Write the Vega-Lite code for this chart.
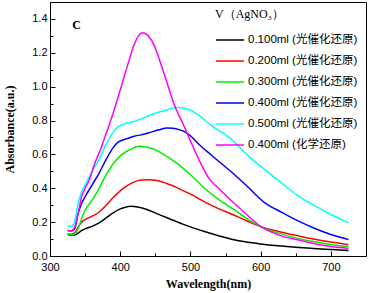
{
  "$schema": "https://vega.github.io/schema/vega-lite/v6.json",
  "width": 316,
  "height": 254,
  "autosize": {"type": "none"},
  "padding": {"left": 50, "top": 2, "right": 4, "bottom": 37},
  "background": "white",
  "config": {
    "view": {"stroke": "black", "strokeWidth": 1},
    "axis": {
      "grid": false,
      "domainColor": "black",
      "tickColor": "black",
      "labelColor": "black",
      "titleColor": "black",
      "labelFont": "Liberation Sans",
      "labelFontSize": 11,
      "labelOverlap": false,
      "labelFlush": false,
      "titleFont": "Liberation Serif",
      "titleFontSize": 12,
      "titleFontWeight": "bold"
    }
  },
  "datasets": {
    "spectra": [
      {"s": "0.100ml (光催化还原)", "x": 325, "y": 0.128}, {"s": "0.100ml (光催化还原)", "x": 330, "y": 0.122}, {"s": "0.100ml (光催化还原)", "x": 335, "y": 0.124}, {"s": "0.100ml (光催化还原)", "x": 340, "y": 0.135}, {"s": "0.100ml (光催化还原)", "x": 345, "y": 0.15}, {"s": "0.100ml (光催化还原)", "x": 350, "y": 0.16}, {"s": "0.100ml (光催化还原)", "x": 360, "y": 0.175}, {"s": "0.100ml (光催化还原)", "x": 370, "y": 0.195}, {"s": "0.100ml (光催化还原)", "x": 380, "y": 0.225}, {"s": "0.100ml (光催化还原)", "x": 390, "y": 0.255}, {"s": "0.100ml (光催化还原)", "x": 400, "y": 0.278}, {"s": "0.100ml (光催化还原)", "x": 410, "y": 0.291}, {"s": "0.100ml (光催化还原)", "x": 415, "y": 0.294}, {"s": "0.100ml (光催化还原)", "x": 420, "y": 0.293}, {"s": "0.100ml (光催化还原)", "x": 430, "y": 0.285}, {"s": "0.100ml (光催化还原)", "x": 440, "y": 0.272}, {"s": "0.100ml (光催化还原)", "x": 450, "y": 0.255}, {"s": "0.100ml (光催化还原)", "x": 460, "y": 0.237}, {"s": "0.100ml (光催化还原)", "x": 470, "y": 0.22}, {"s": "0.100ml (光催化还原)", "x": 480, "y": 0.203}, {"s": "0.100ml (光催化还原)", "x": 490, "y": 0.187}, {"s": "0.100ml (光催化还原)", "x": 500, "y": 0.172}, {"s": "0.100ml (光催化还原)", "x": 520, "y": 0.145}, {"s": "0.100ml (光催化还原)", "x": 540, "y": 0.12}, {"s": "0.100ml (光催化还原)", "x": 560, "y": 0.097}, {"s": "0.100ml (光催化还原)", "x": 580, "y": 0.082}, {"s": "0.100ml (光催化还原)", "x": 600, "y": 0.071}, {"s": "0.100ml (光催化还原)", "x": 625, "y": 0.06}, {"s": "0.100ml (光催化还原)", "x": 650, "y": 0.051}, {"s": "0.100ml (光催化还原)", "x": 675, "y": 0.044}, {"s": "0.100ml (光催化还原)", "x": 700, "y": 0.038}, {"s": "0.100ml (光催化还原)", "x": 725, "y": 0.032},

      {"s": "0.200ml (光催化还原)", "x": 325, "y": 0.132}, {"s": "0.200ml (光催化还原)", "x": 330, "y": 0.128}, {"s": "0.200ml (光催化还原)", "x": 335, "y": 0.135}, {"s": "0.200ml (光催化还原)", "x": 340, "y": 0.17}, {"s": "0.200ml (光催化还原)", "x": 345, "y": 0.2}, {"s": "0.200ml (光催化还原)", "x": 350, "y": 0.215}, {"s": "0.200ml (光催化还原)", "x": 360, "y": 0.235}, {"s": "0.200ml (光催化还原)", "x": 370, "y": 0.26}, {"s": "0.200ml (光催化还原)", "x": 380, "y": 0.3}, {"s": "0.200ml (光催化还原)", "x": 390, "y": 0.345}, {"s": "0.200ml (光催化还原)", "x": 400, "y": 0.385}, {"s": "0.200ml (光催化还原)", "x": 410, "y": 0.415}, {"s": "0.200ml (光催化还原)", "x": 420, "y": 0.438}, {"s": "0.200ml (光催化还原)", "x": 430, "y": 0.449}, {"s": "0.200ml (光催化还原)", "x": 440, "y": 0.451}, {"s": "0.200ml (光催化还原)", "x": 450, "y": 0.447}, {"s": "0.200ml (光催化还原)", "x": 460, "y": 0.437}, {"s": "0.200ml (光催化还原)", "x": 470, "y": 0.422}, {"s": "0.200ml (光催化还原)", "x": 480, "y": 0.405}, {"s": "0.200ml (光催化还原)", "x": 490, "y": 0.385}, {"s": "0.200ml (光催化还原)", "x": 500, "y": 0.365}, {"s": "0.200ml (光催化还原)", "x": 520, "y": 0.32}, {"s": "0.200ml (光催化还原)", "x": 540, "y": 0.28}, {"s": "0.200ml (光催化还原)", "x": 560, "y": 0.245}, {"s": "0.200ml (光催化还原)", "x": 580, "y": 0.208}, {"s": "0.200ml (光催化还原)", "x": 600, "y": 0.173}, {"s": "0.200ml (光催化还原)", "x": 625, "y": 0.145}, {"s": "0.200ml (光催化还原)", "x": 650, "y": 0.122}, {"s": "0.200ml (光催化还原)", "x": 675, "y": 0.1}, {"s": "0.200ml (光催化还原)", "x": 700, "y": 0.082}, {"s": "0.200ml (光催化还原)", "x": 725, "y": 0.067},

      {"s": "0.300ml (光催化还原)", "x": 325, "y": 0.13}, {"s": "0.300ml (光催化还原)", "x": 330, "y": 0.124}, {"s": "0.300ml (光催化还原)", "x": 335, "y": 0.13}, {"s": "0.300ml (光催化还原)", "x": 340, "y": 0.16}, {"s": "0.300ml (光催化还原)", "x": 345, "y": 0.22}, {"s": "0.300ml (光催化还原)", "x": 350, "y": 0.27}, {"s": "0.300ml (光催化还原)", "x": 360, "y": 0.33}, {"s": "0.300ml (光催化还原)", "x": 370, "y": 0.4}, {"s": "0.300ml (光催化还原)", "x": 380, "y": 0.48}, {"s": "0.300ml (光催化还原)", "x": 390, "y": 0.545}, {"s": "0.300ml (光催化还原)", "x": 400, "y": 0.59}, {"s": "0.300ml (光催化还原)", "x": 410, "y": 0.62}, {"s": "0.300ml (光催化还原)", "x": 420, "y": 0.64}, {"s": "0.300ml (光催化还原)", "x": 427, "y": 0.648}, {"s": "0.300ml (光催化还原)", "x": 435, "y": 0.645}, {"s": "0.300ml (光催化还原)", "x": 445, "y": 0.635}, {"s": "0.300ml (光催化还原)", "x": 460, "y": 0.605}, {"s": "0.300ml (光催化还原)", "x": 480, "y": 0.55}, {"s": "0.300ml (光催化还原)", "x": 500, "y": 0.48}, {"s": "0.300ml (光催化还原)", "x": 520, "y": 0.4}, {"s": "0.300ml (光催化还原)", "x": 540, "y": 0.335}, {"s": "0.300ml (光催化还原)", "x": 560, "y": 0.28}, {"s": "0.300ml (光催化还原)", "x": 580, "y": 0.222}, {"s": "0.300ml (光催化还原)", "x": 600, "y": 0.173}, {"s": "0.300ml (光催化还原)", "x": 625, "y": 0.135}, {"s": "0.300ml (光催化还原)", "x": 650, "y": 0.107}, {"s": "0.300ml (光催化还原)", "x": 675, "y": 0.085}, {"s": "0.300ml (光催化还原)", "x": 700, "y": 0.068}, {"s": "0.300ml (光催化还原)", "x": 725, "y": 0.055},

      {"s": "0.400ml (光催化还原)", "x": 325, "y": 0.15}, {"s": "0.400ml (光催化还原)", "x": 330, "y": 0.148}, {"s": "0.400ml (光催化还原)", "x": 335, "y": 0.16}, {"s": "0.400ml (光催化还原)", "x": 340, "y": 0.25}, {"s": "0.400ml (光催化还原)", "x": 345, "y": 0.31}, {"s": "0.400ml (光催化还原)", "x": 350, "y": 0.35}, {"s": "0.400ml (光催化还原)", "x": 360, "y": 0.42}, {"s": "0.400ml (光催化还原)", "x": 370, "y": 0.49}, {"s": "0.400ml (光催化还原)", "x": 380, "y": 0.57}, {"s": "0.400ml (光催化还原)", "x": 390, "y": 0.64}, {"s": "0.400ml (光催化还原)", "x": 397, "y": 0.672}, {"s": "0.400ml (光催化还原)", "x": 410, "y": 0.693}, {"s": "0.400ml (光催化还原)", "x": 420, "y": 0.707}, {"s": "0.400ml (光催化还原)", "x": 435, "y": 0.72}, {"s": "0.400ml (光催化还原)", "x": 445, "y": 0.733}, {"s": "0.400ml (光催化还原)", "x": 455, "y": 0.745}, {"s": "0.400ml (光催化还原)", "x": 467, "y": 0.756}, {"s": "0.400ml (光催化还原)", "x": 475, "y": 0.755}, {"s": "0.400ml (光催化还原)", "x": 485, "y": 0.745}, {"s": "0.400ml (光催化还原)", "x": 492, "y": 0.733}, {"s": "0.400ml (光催化还原)", "x": 500, "y": 0.71}, {"s": "0.400ml (光催化还原)", "x": 512, "y": 0.66}, {"s": "0.400ml (光催化还原)", "x": 530, "y": 0.595}, {"s": "0.400ml (光催化还原)", "x": 560, "y": 0.49}, {"s": "0.400ml (光催化还原)", "x": 580, "y": 0.415}, {"s": "0.400ml (光催化还原)", "x": 606, "y": 0.314}, {"s": "0.400ml (光催化还原)", "x": 630, "y": 0.258}, {"s": "0.400ml (光催化还原)", "x": 654, "y": 0.206}, {"s": "0.400ml (光催化还原)", "x": 680, "y": 0.158}, {"s": "0.400ml (光催化还原)", "x": 700, "y": 0.127}, {"s": "0.400ml (光催化还原)", "x": 725, "y": 0.098},

      {"s": "0.500ml (光催化还原)", "x": 325, "y": 0.177}, {"s": "0.500ml (光催化还原)", "x": 330, "y": 0.175}, {"s": "0.500ml (光催化还原)", "x": 335, "y": 0.2}, {"s": "0.500ml (光催化还原)", "x": 340, "y": 0.31}, {"s": "0.500ml (光催化还原)", "x": 345, "y": 0.38}, {"s": "0.500ml (光催化还原)", "x": 350, "y": 0.42}, {"s": "0.500ml (光催化还原)", "x": 360, "y": 0.5}, {"s": "0.500ml (光催化还原)", "x": 370, "y": 0.57}, {"s": "0.500ml (光催化还原)", "x": 380, "y": 0.66}, {"s": "0.500ml (光催化还原)", "x": 390, "y": 0.73}, {"s": "0.500ml (光催化还原)", "x": 397, "y": 0.763}, {"s": "0.500ml (光催化还原)", "x": 410, "y": 0.785}, {"s": "0.500ml (光催化还原)", "x": 420, "y": 0.795}, {"s": "0.500ml (光催化还原)", "x": 444, "y": 0.834}, {"s": "0.500ml (光催化还原)", "x": 467, "y": 0.864}, {"s": "0.500ml (光催化还原)", "x": 481, "y": 0.877}, {"s": "0.500ml (光催化还原)", "x": 495, "y": 0.87}, {"s": "0.500ml (光催化还原)", "x": 512, "y": 0.83}, {"s": "0.500ml (光催化还原)", "x": 530, "y": 0.77}, {"s": "0.500ml (光催化还原)", "x": 559, "y": 0.687}, {"s": "0.500ml (光催化还原)", "x": 580, "y": 0.6}, {"s": "0.500ml (光催化还原)", "x": 606, "y": 0.51}, {"s": "0.500ml (光催化还原)", "x": 630, "y": 0.43}, {"s": "0.500ml (光催化还原)", "x": 654, "y": 0.353}, {"s": "0.500ml (光催化还原)", "x": 680, "y": 0.29}, {"s": "0.500ml (光催化还原)", "x": 700, "y": 0.245}, {"s": "0.500ml (光催化还原)", "x": 725, "y": 0.197},

      {"s": "0.400ml (化学还原)", "x": 325, "y": 0.15}, {"s": "0.400ml (化学还原)", "x": 330, "y": 0.148}, {"s": "0.400ml (化学还原)", "x": 335, "y": 0.17}, {"s": "0.400ml (化学还原)", "x": 340, "y": 0.25}, {"s": "0.400ml (化学还原)", "x": 345, "y": 0.35}, {"s": "0.400ml (化学还原)", "x": 350, "y": 0.4}, {"s": "0.400ml (化学还原)", "x": 355, "y": 0.44}, {"s": "0.400ml (化学还原)", "x": 364, "y": 0.55}, {"s": "0.400ml (化学还原)", "x": 371, "y": 0.62}, {"s": "0.400ml (化学还原)", "x": 378, "y": 0.7}, {"s": "0.400ml (化学还原)", "x": 390, "y": 0.845}, {"s": "0.400ml (化学还原)", "x": 400, "y": 0.98}, {"s": "0.400ml (化学还原)", "x": 410, "y": 1.12}, {"s": "0.400ml (化学还原)", "x": 420, "y": 1.25}, {"s": "0.400ml (化学还原)", "x": 426, "y": 1.3}, {"s": "0.400ml (化学还原)", "x": 432, "y": 1.318}, {"s": "0.400ml (化学还原)", "x": 440, "y": 1.3}, {"s": "0.400ml (化学还原)", "x": 448, "y": 1.247}, {"s": "0.400ml (化学还原)", "x": 455, "y": 1.17}, {"s": "0.400ml (化学还原)", "x": 463, "y": 1.07}, {"s": "0.400ml (化学还原)", "x": 477, "y": 0.893}, {"s": "0.400ml (化学还原)", "x": 491, "y": 0.766}, {"s": "0.400ml (化学还原)", "x": 500, "y": 0.68}, {"s": "0.400ml (化学还原)", "x": 512, "y": 0.57}, {"s": "0.400ml (化学还原)", "x": 526, "y": 0.46}, {"s": "0.400ml (化学还原)", "x": 540, "y": 0.4}, {"s": "0.400ml (化学还原)", "x": 560, "y": 0.32}, {"s": "0.400ml (化学还原)", "x": 580, "y": 0.245}, {"s": "0.400ml (化学还原)", "x": 600, "y": 0.175}, {"s": "0.400ml (化学还原)", "x": 625, "y": 0.125}, {"s": "0.400ml (化学还原)", "x": 654, "y": 0.094}, {"s": "0.400ml (化学还原)", "x": 680, "y": 0.07}, {"s": "0.400ml (化学还原)", "x": 700, "y": 0.056}, {"s": "0.400ml (化学还原)", "x": 725, "y": 0.045}
    ],
    "panel": [{"label": "C", "x": 338, "y": 1.365}]
  },
  "layer": [
    {
      "data": {"name": "spectra"},
      "mark": {"type": "line", "strokeWidth": 1.5, "interpolate": "monotone"},
      "encoding": {
        "x": {
          "field": "x", "type": "quantitative",
          "scale": {"domain": [300, 750], "nice": false},
          "axis": {
            "title": "Wavelength(nm)",
            "values": [300, 350, 400, 450, 500, 550, 600, 650, 700],
            "tickCount": 30,
            "labelExpr": "datum.value % 100 == 0 ? datum.label : ''",
            "tickSize": {"condition": {"test": "datum.value % 100 == 0", "value": -5}, "value": -3},
            "labelOverlap": false,
            "labelFlush": false,
            "labelPadding": 10,
            "titlePadding": 4
          }
        },
        "y": {
          "field": "y", "type": "quantitative",
          "scale": {"domain": [0, 1.5], "nice": false},
          "axis": {
            "title": "Absorbance(a.u.)",
            "values": [0, 0.1, 0.2, 0.3, 0.4, 0.5, 0.6, 0.7, 0.8, 0.9, 1.0, 1.1, 1.2, 1.3, 1.4],
            "tickCount": 30,
            "labelExpr": "round(datum.value * 10) % 2 == 0 ? format(datum.value, '.1f') : ''",
            "tickSize": {"condition": {"test": "round(datum.value * 10) % 2 == 0", "value": -5}, "value": -3},
            "labelOverlap": false,
            "labelFlush": false,
            "labelPadding": 8,
            "titlePadding": 15
          }
        },
        "color": {
          "field": "s", "type": "nominal",
          "sort": ["0.100ml (光催化还原)", "0.200ml (光催化还原)", "0.300ml (光催化还原)", "0.400ml (光催化还原)", "0.500ml (光催化还原)", "0.400ml (化学还原)"],
          "scale": {
            "domain": ["0.100ml (光催化还原)", "0.200ml (光催化还原)", "0.300ml (光催化还原)", "0.400ml (光催化还原)", "0.500ml (光催化还原)", "0.400ml (化学还原)"],
            "range": ["#000000", "#ff0000", "#00ee00", "#0000ff", "#00ffff", "#ff00ff"]
          },
          "legend": {
            "title": "       V（AgNO₃）",
            "orient": "none",
            "legendX": 165,
            "legendY": 7,
            "titleFont": "Liberation Serif",
            "titleFontSize": 12,
            "titleFontWeight": "normal",
            "titleColor": "black",
            "titleAnchor": "start",
            "titlePadding": 4,
            "labelFont": "Liberation Sans, Noto Sans CJK SC",
            "labelFontSize": 11.5,
            "labelColor": "black",
            "labelLimit": 200,
            "labelOffset": 3,
            "symbolType": "stroke",
            "symbolSize": 784,
            "symbolStrokeWidth": 1.5,
            "rowPadding": -4.6,
            "padding": 0
          }
        }
      }
    },
    {
      "data": {"name": "panel"},
      "mark": {"type": "text", "font": "Liberation Serif", "fontSize": 12, "fontWeight": "bold", "color": "black"},
      "encoding": {
        "x": {"field": "x", "type": "quantitative"},
        "y": {"field": "y", "type": "quantitative"},
        "text": {"field": "label"}
      }
    }
  ]
}
